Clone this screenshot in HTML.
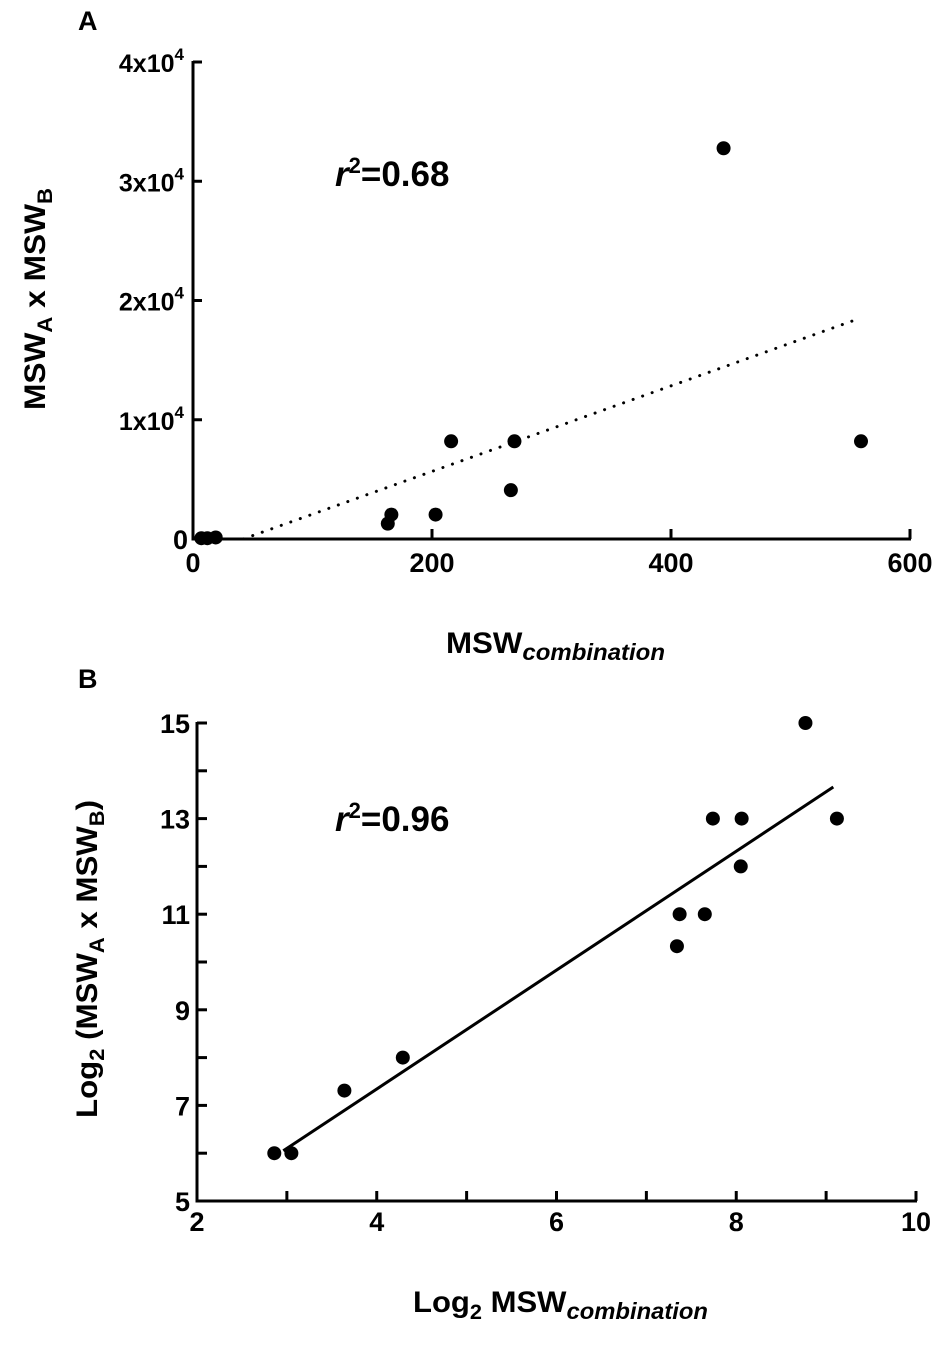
<!DOCTYPE html>
<html><head><meta charset="utf-8"><style>
body{margin:0;background:#fff;}
svg{display:block;font-family:"Liberation Sans",Arial,sans-serif;font-weight:bold;}
</style></head><body>
<svg id="c" width="950" height="1349" viewBox="0 0 950 1349">
<text x="78" y="30" font-size="27">A</text>
<text x="78" y="688" font-size="27">B</text>
<text x="335" y="186" font-size="35"><tspan font-style="italic">r</tspan><tspan font-size="22" dy="-13">2</tspan><tspan dy="13">=0.68</tspan></text>
<text x="335" y="831" font-size="35"><tspan font-style="italic">r</tspan><tspan font-size="22" dy="-13">2</tspan><tspan dy="13">=0.96</tspan></text>
<text x="446" y="653" font-size="30" textLength="219" lengthAdjust="spacingAndGlyphs">MSW<tspan font-size="23" font-style="italic" dy="7">combination</tspan></text>
<text x="413" y="1312" font-size="30" textLength="295" lengthAdjust="spacingAndGlyphs">Log<tspan font-size="21" dy="7">2</tspan><tspan dy="-7"> MSW</tspan><tspan font-size="23" font-style="italic" dy="7">combination</tspan></text>
<text transform="translate(45,410) rotate(-90)" font-size="30" textLength="222" lengthAdjust="spacingAndGlyphs">MSW<tspan font-size="21" dy="7">A</tspan><tspan dy="-7"> x MSW</tspan><tspan font-size="21" dy="7">B</tspan></text>
<text transform="translate(97,1118) rotate(-90)" font-size="30" textLength="318" lengthAdjust="spacingAndGlyphs">Log<tspan font-size="21" dy="7">2</tspan><tspan dy="-7"> (MSW</tspan><tspan font-size="21" dy="7">A</tspan><tspan dy="-7"> x MSW</tspan><tspan font-size="21" dy="7">B</tspan><tspan dy="-7">)</tspan></text>
</svg>
<script>
const aX=[7,12,19,163,166,203,216,266,269,444,559];
const aY=[64,64,128,1290,2048,2048,8192,4096,8192,32768,8192];
const aFit=[[42,0],[555,18400]];
const aXTicks=[0,200,400,600];
const aYTicks=[0,1,2,3,4];
const bX=[2.86,3.05,3.64,4.29,7.34,7.37,7.65,7.74,8.06,8.05,8.77,9.12];
const bY=[6,6,7.31,8,10.33,11,11,13,13,12,15,13];
const bFit=[[2.96,6.05],[9.08,13.66]];
const bXTicks=[2,4,6,8,10];
const bYTicks=[5,7,9,11,13,15];
const NS='http://www.w3.org/2000/svg';
const svg=document.getElementById('c');
function mk(t,a){const e=document.createElementNS(NS,t);for(const k in a)e.setAttribute(k,a[k]);svg.appendChild(e);return e;}
const axA=v=>193+v*(717/600), ayA=v=>539-v*(477/40000);
const axB=v=>197+(v-2)*(719/8), ayB=v=>1201-(v-5)*(478/10);
function line(x1,y1,x2,y2,w,name,dash){const e=mk('line',{x1,y1,x2,y2,stroke:'#000','stroke-width':w});if(dash){e.setAttribute('stroke-dasharray',dash);e.setAttribute('stroke-linecap','round');}

return e;}
function txt(x,y,s,anchor,name,size){const e=mk('text',{x,y,'font-size':size||22,'text-anchor':anchor});e.textContent=s;

return e;}
line(193,61,193,540.5,3,'y-axis-a');
line(191.5,539,911,539,3,'x-axis-a');
aYTicks.forEach(v=>{const y=ayA(v*10000);line(193,y,202,y,3,'y-tick-a');
 if(v===0){txt(188,y+10,'0','end','y-tick-label-a',27);}
 else{const e=txt(184,y+10,'','end','y-tick-label-a',25);e.innerHTML=v+'x10<tspan font-size="17" dy="-12">4</tspan>';}});
aXTicks.forEach(v=>{const x=axA(v);if(v>0)line(x,539,x,529,3,'x-tick-a');txt(x,572,String(v),'middle','x-tick-label-a',27);});
line(axA(aFit[0][0]),ayA(aFit[0][1]),axA(aFit[1][0]),ayA(aFit[1][1]),3,'fit-line-a','0.1 10');
aX.forEach((v,i)=>{const e=mk('circle',{cx:axA(v),cy:ayA(aY[i]),r:7,fill:'#000'});

});
line(197,722,197,1202.5,3,'y-axis-b');
line(195.5,1201,917,1201,3,'x-axis-b');
for(let v=6;v<=15;v++){const y=ayB(v);line(197,y,207,y,3,'y-tick-b');}
bYTicks.forEach(v=>txt(190,ayB(v)+10,String(v),'end','y-tick-label-b',27));
for(let v=3;v<=10;v++){const x=axB(v);line(x,1201,x,1191,3,'x-tick-b');}
bXTicks.forEach(v=>txt(axB(v),1231,String(v),'middle','x-tick-label-b',27));
line(axB(bFit[0][0]),ayB(bFit[0][1]),axB(bFit[1][0]),ayB(bFit[1][1]),3,'fit-line-b');
bX.forEach((v,i)=>{const e=mk('circle',{cx:axB(v),cy:ayB(bY[i]),r:7,fill:'#000'});

});
</script>
</body></html>
